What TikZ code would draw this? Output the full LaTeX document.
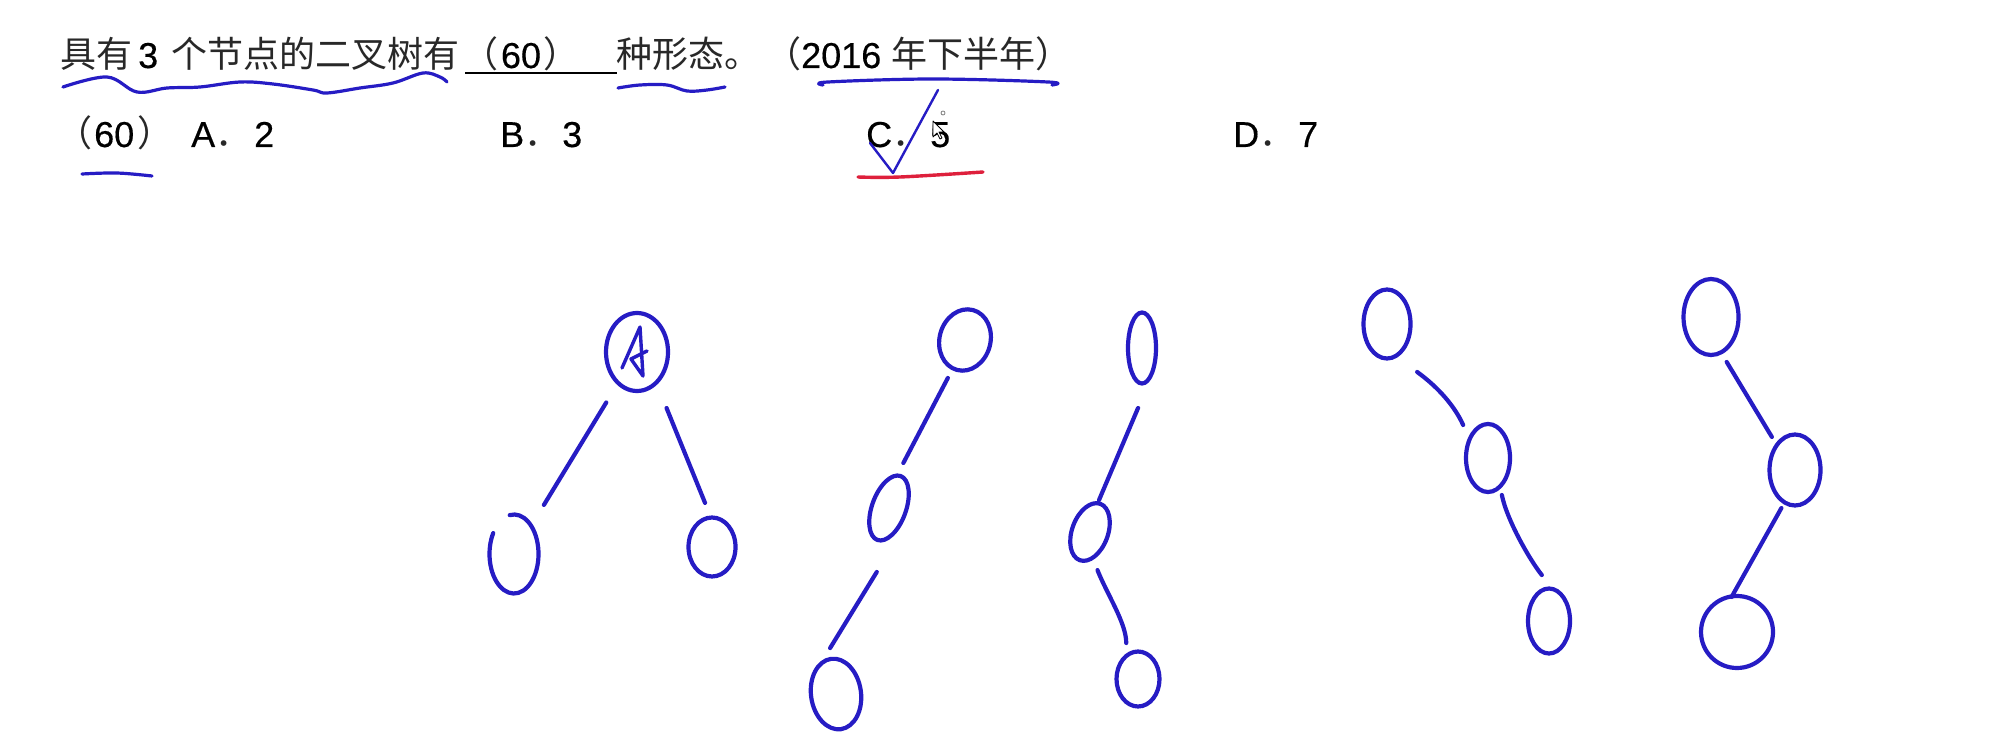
\documentclass[tikz,border=0pt]{standalone}
\usepackage{fontspec}
\setmainfont{Liberation Sans}[FakeBold=0.35]
\newfontfamily\cjk{Noto Sans CJK SC}
\usetikzlibrary{shapes.geometric,calc}
\definecolor{hb}{RGB}{38,28,196}
\definecolor{hr}{RGB}{222,32,60}
\definecolor{cjkgray}{RGB}{40,40,40}
\newcommand{\zh}[1]{{\cjk\color{cjkgray}#1}}
\begin{document}
\begin{tikzpicture}[x=1pt,y=-1pt,
  txt/.style={anchor=base west, inner sep=0pt, font=\fontsize{36}{43}\selectfont},
  tnode/.style={draw=hb, line width=4.2pt, ellipse, inner sep=0pt},
  tedge/.style={draw=hb, line width=4.2pt, line cap=round},
  ink/.style={draw=hb, line width=3.2pt, line cap=round, line join=round}]
\fill[white] (0,0) rectangle (2004,754);
\useasboundingbox (0,0) rectangle (2004,754);

% ---- question line 1 ----
\node[txt] (q1) at (60,68) {\zh{具有}};
\node[txt] (q2) at (138,68) {3};
\node[txt] (q3) at (171,68) {\zh{个节点的二叉树有}};
\coordinate (bl) at (465,73);
\coordinate (br) at (617,73);
\draw[line width=2.7pt] (bl) -- (br);
\node[txt, anchor=base] (q4) at (521,68) {\zh{（}\hspace{2pt}60\hspace{2pt}\zh{）}};
\node[txt] (q5) at (616,68) {\zh{种形态。}};
\node[txt] (q6) at (765,68) {\zh{（}2016 \zh{年下半年）}};

% ---- options line 2 ----
\node[txt] (o0) at (56,147) {\zh{（}\hspace{2pt}60\hspace{3pt}\zh{）}};
\node[txt] (oA) at (191,147) {A\zh{．}\hspace{3pt}2};
\node[txt] (oB) at (500,147) {B\zh{．}\hspace{2pt}3};
\node[txt] (oC) at (866,147) {C\zh{．}\hspace{2pt}5};
\node[txt] (oD) at (1233,147) {D\zh{．}\hspace{3pt}7};

% ---- hand annotations ----
\draw[ink] plot[smooth, tension=0.6] coordinates {(63,87) (107,77) (137,92) (167,88) (200,87) (240,82) (273,84) (313,90) (327,93) (360,88) (393,83) (423,73) (440,77) (447,82)};
\draw[ink] plot[smooth, tension=0.6] coordinates {(618,88) (640,85) (667,85) (687,91) (707,90) (725,87)};
\draw[ink] plot[smooth, tension=0.6] coordinates {(823,85) (828,82) (933,79) (1048,82) (1052,85)};
\draw[ink] plot[smooth, tension=0.6] coordinates {(82,174) (117,173) (152,176)};
\draw[draw=hb, line width=2.4pt, line join=round, line cap=round] (870,143) -- (893,173) -- (938,90);
\draw[draw=hr, line width=3.4pt, line cap=round] plot[smooth, tension=0.6] coordinates {(858,177) (900,177) (983,172)};
% cursor
\draw[black, line width=0.8pt, fill=white, line join=round] (933,121) -- (933,137) -- (937,133) -- (940,139) -- (942,138) -- (939,132) -- (944,132) -- cycle;
\draw[gray, line width=0.8pt] (943,113) circle (2);

% ---- tree 1 ----
\node[tnode, minimum width=62pt, minimum height=78pt] (T1a) at (637,352) {};
\node[tnode, draw=none, minimum width=49pt, minimum height=79pt] (T1b) at (514,554) {};
\draw[tedge] ($(T1b)+({24.5*cos(-100)},{39.5*sin(-100)})$) arc[start angle=-100, end angle=212, x radius=24.5, y radius=39.5];
\node[tnode, minimum width=47pt, minimum height=59pt] (T1c) at (712,547) {};
\draw[draw=hb, line width=3.4pt, line join=round, line cap=round] ($(T1a)+(-15,16)$) -- ($(T1a)+(3,-25)$) -- ($(T1a)+(6,24)$) -- ($(T1a)+(-6,7)$) -- ($(T1a)+(10,-1)$);
\draw[tedge] ($(T1a)!0.25!(T1b)$) -- ($(T1a)!0.757!(T1b)$);
\draw[tedge] ($(T1a)!0.287!(T1c)+(8,0)$) -- ($(T1a)!0.774!(T1c)+(10,0)$);

% ---- tree 2 ----
\node[tnode, minimum width=51pt, minimum height=62pt, rotate=-15] (T2a) at (965,340) {};
\node[tnode, minimum width=34pt, minimum height=68pt, rotate=-20] (T2b) at (889,508) {};
\node[tnode, minimum width=50pt, minimum height=71pt, rotate=8] (T2c) at (836,694) {};
\draw[tedge] ($(T2a)!0.226!(T2b)$) -- ($(T2a)!0.732!(T2b)+(-6,0)$);
\draw[tedge] ($(T2b)!0.344!(T2c)+(6,0)$) -- ($(T2b)!0.753!(T2c)+(-19,0)$);

% ---- tree 3 ----
\node[tnode, minimum width=28pt, minimum height=71pt] (T3a) at (1142,348) {};
\node[tnode, minimum width=36pt, minimum height=60pt, rotate=-20] (T3b) at (1090,532) {};
\node[tnode, minimum width=43pt, minimum height=55pt] (T3c) at (1138,679) {};
\draw[tedge] ($(T3a)!0.326!(T3b)+(13,0)$) -- ($(T3a)!0.826!(T3b)$);
\draw[tedge] ($(T3b)!0.259!(T3c)+(-5,0)$) .. controls +(10,25) and +(0,-20) .. ($(T3b)!0.755!(T3c)$);

% ---- tree 4 ----
\node[tnode, minimum width=47pt, minimum height=69pt] (T4a) at (1387,324) {};
\node[tnode, minimum width=44pt, minimum height=68pt] (T4b) at (1488,458) {};
\node[tnode, minimum width=42pt, minimum height=65pt] (T4c) at (1549,621) {};
\draw[tedge] ($(T4a)!0.358!(T4b)+(-6,0)$) .. controls +(22,16) and +(-8,-18) .. ($(T4a)!0.754!(T4b)$);
\draw[tedge] ($(T4b)!0.227!(T4c)$) .. controls +(5,25) and +(-12,-15) .. ($(T4b)!0.718!(T4c)+(10,0)$);

% ---- tree 5 ----
\node[tnode, minimum width=55pt, minimum height=76pt] (T5a) at (1711,317) {};
\node[tnode, minimum width=51pt, minimum height=71pt] (T5b) at (1795,470) {};
\node[tnode, minimum width=72pt, minimum height=72pt] (T5c) at (1737,632) {};
\draw[tedge] ($(T5a)!0.294!(T5b)+(-9,0)$) -- ($(T5a)!0.784!(T5b)+(-5,0)$);
\draw[tedge] ($(T5b)!0.235!(T5c)$) -- ($(T5b)!0.784!(T5c)+(-18,0)$);
\end{tikzpicture}
\end{document}
